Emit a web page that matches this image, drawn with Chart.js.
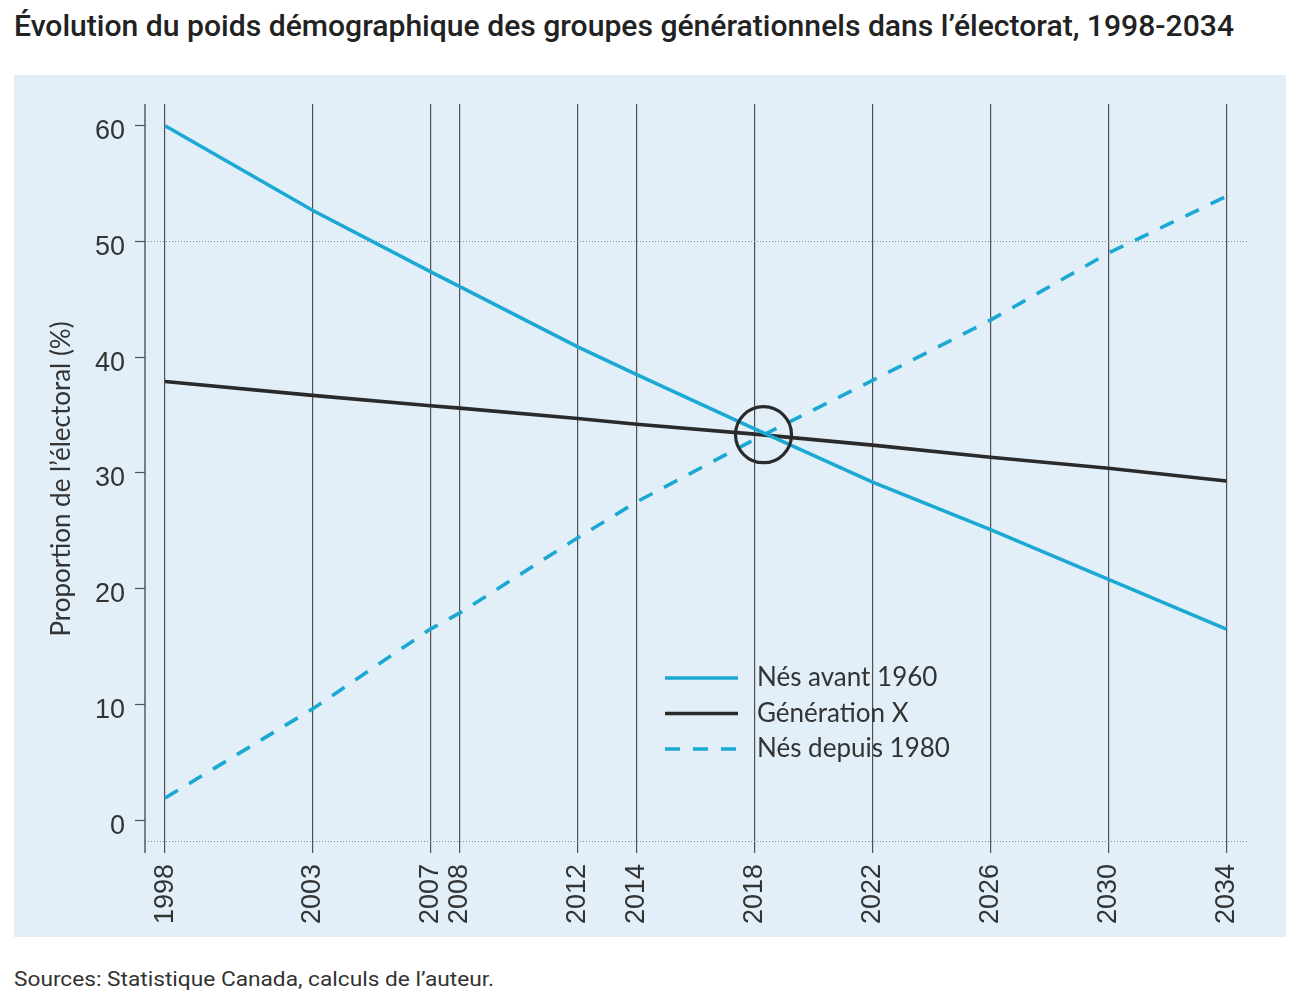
<!DOCTYPE html>
<html lang="fr">
<head>
<meta charset="utf-8">
<script src="https://cdn.jsdelivr.net/npm/chart.js@4/dist/chart.umd.min.js"></script>
<style>
  html, body { margin: 0; padding: 0; background: #ffffff; }
  body { width: 1300px; height: 1003px; position: relative; overflow: hidden; }
  #title { position: absolute; left: 14px; top: 8px; font-family: Roboto, "Noto Sans", sans-serif; font-weight: 500; font-size: 29px; line-height: 36px; color: #222; white-space: nowrap; transform-origin: 0 0; }
  #panel { position: absolute; left: 14px; top: 75px; width: 1272px; height: 862px; background: #e2eff8; }
  #source { position: absolute; left: 14px; top: 966px; font-family: Roboto, "Noto Sans", sans-serif; font-size: 21px; line-height: 26px; color: #333; white-space: nowrap; transform-origin: 0 0; }
  canvas { display: block; }
</style>
</head>
<body>
<div id="title">Évolution du poids démographique des groupes générationnels dans l’électorat, 1998-2034</div>
<div id="panel"><canvas id="c" width="1272" height="862"></canvas></div>
<div id="source">Sources: Statistique Canada, calculs de l’auteur.</div>
<script>
// ---- Data ----
const YEARS = [1998, 2003, 2007, 2008, 2012, 2014, 2018, 2022, 2026, 2030, 2034];
const NES_AVANT_1960 = [60.0, 52.7, 47.4, 46.1, 40.9, 38.5, 33.8, 29.2, 25.1, 20.8, 16.5];
const GENERATION_X = [37.9, 36.7, 35.8, 35.6, 34.7, 34.2, 33.35, 32.4, 31.35, 30.4, 29.3];
const NES_DEPUIS_1980 = [1.9, 9.6, 16.5, 17.9, 24.4, 27.5, 32.9, 38.0, 43.2, 49.0, 53.9];
const SERIES_LABELS = ["Nés avant 1960", "Génération X", "Nés depuis 1980"];
const Y_TICKS = [0, 10, 20, 30, 40, 50, 60];
const REF_LINES = [50];
const HIGHLIGHT = { x: 2018.3, y: 33.3 };
const Y_TITLE = "Proportion de l’électoral (%)";

// fit title/source widths
function fitWidth(id, w) {
  const el = document.getElementById(id);
  const cur = el.getBoundingClientRect().width;
  el.style.transform = 'scaleX(' + (w / cur) + ')';
}
fitWidth('title', 1220);
fitWidth('source', 480);

const BLUE = '#1ba9d4';
const DARK = '#2a2a2a';
const GRID = '#505050';

const toXY = arr => arr.map((v, i) => ({ x: YEARS[i], y: v }));

const extras = {
  id: 'extras',
  beforeDatasetsDraw(chart) {
    const { ctx, chartArea: a, scales: { x, y } } = chart;
    ctx.save();
    // dotted reference lines
    ctx.strokeStyle = '#8a8a8a';
    ctx.lineWidth = 1;
    ctx.setLineDash([1, 2]);
    const ys = REF_LINES.map(v => y.getPixelForValue(v)).concat([a.bottom]);
    ys.forEach(py => {
      ctx.beginPath();
      ctx.moveTo(a.left, Math.round(py) + 0.5);
      ctx.lineTo(a.right, Math.round(py) + 0.5);
      ctx.stroke();
    });
    ctx.setLineDash([]);
    // left axis line
    ctx.strokeStyle = GRID;
    ctx.lineWidth = 1.4;
    ctx.beginPath();
    ctx.moveTo(a.left, a.top);
    ctx.lineTo(a.left, a.bottom + 12);
    ctx.stroke();
    // y title
    ctx.fillStyle = '#333';
    ctx.font = '26px Lato, "Noto Sans", sans-serif';
    ctx.textAlign = 'center';
    ctx.textBaseline = 'middle';
    ctx.translate(a.left - 83, a.top + 375);
    ctx.rotate(-Math.PI / 2);
    ctx.fillText(Y_TITLE, 0, 0);
    ctx.restore();
  },
  afterDatasetsDraw(chart) {
    const { ctx, chartArea: a, scales: { x, y } } = chart;
    ctx.save();
    // highlight circle
    ctx.strokeStyle = DARK;
    ctx.lineWidth = 3.2;
    ctx.beginPath();
    ctx.arc(x.getPixelForValue(HIGHLIGHT.x), y.getPixelForValue(HIGHLIGHT.y), 28, 0, Math.PI * 2);
    ctx.stroke();
    // legend
    const lx = a.left + 520, tx = a.left + 612;
    const ly0 = a.top + 574, dy = 35.5;
    ctx.font = '26px Lato, "Noto Sans", sans-serif';
    ctx.textBaseline = 'middle';
    ctx.textAlign = 'left';
    chart.data.datasets.forEach((ds, i) => {
      const py = ly0 + i * dy;
      ctx.strokeStyle = ds.borderColor;
      ctx.lineWidth = 3.5;
      ctx.setLineDash(ds.borderDash || []);
      ctx.beginPath();
      ctx.moveTo(lx, py);
      ctx.lineTo(lx + 73, py);
      ctx.stroke();
      ctx.setLineDash([]);
      ctx.fillStyle = '#333';
      ctx.fillText(ds.label, tx, py);
    });
    ctx.restore();
  }
};

new Chart(document.getElementById('c'), {
  type: 'line',
  data: {
    datasets: [
      { label: SERIES_LABELS[0], data: toXY(NES_AVANT_1960), borderColor: BLUE, borderWidth: 3.6 },
      { label: SERIES_LABELS[1], data: toXY(GENERATION_X), borderColor: DARK, borderWidth: 3.6 },
      { label: SERIES_LABELS[2], data: toXY(NES_DEPUIS_1980), borderColor: BLUE, borderWidth: 3.6, borderDash: [15, 13] }
    ]
  },
  options: {
    responsive: false,
    animation: false,
    events: [],
    layout: { padding: { left: 0, top: 29, right: 39, bottom: 0 } },
    elements: { point: { radius: 0 }, line: { tension: 0, borderCapStyle: 'butt' } },
    plugins: { legend: { display: false }, tooltip: { enabled: false }, title: { display: false } },
    scales: {
      x: {
        type: 'linear',
        min: 1997.32,
        max: 2034.70,
        afterBuildTicks: s => { s.ticks = YEARS.map(v => ({ value: v })); },
        afterFit: s => { s.height = 96; },
        grid: { color: GRID, lineWidth: 1.2, drawTicks: true, tickLength: 12, tickColor: GRID, tickWidth: 1.2 },
        border: { display: false },
        ticks: {
          autoSkip: false, minRotation: 90, maxRotation: 90, padding: 11,
          color: '#333', font: { family: '"Liberation Sans", Arial, sans-serif', size: 27 },
          callback: v => String(v)
        }
      },
      y: {
        type: 'linear',
        min: -1.81,
        max: 61.88,
        afterBuildTicks: s => { s.ticks = Y_TICKS.map(v => ({ value: v })); },
        afterFit: s => { s.width = 131; },
        grid: { drawOnChartArea: false, drawTicks: true, tickLength: 10, tickColor: GRID, tickWidth: 1.2 },
        border: { display: false },
        ticks: {
          padding: 10, labelOffset: 6,
          color: '#333', font: { family: '"Liberation Sans", Arial, sans-serif', size: 27 },
          callback: v => String(v)
        }
      }
    }
  },
  plugins: [extras]
});
</script>
</body>
</html>
